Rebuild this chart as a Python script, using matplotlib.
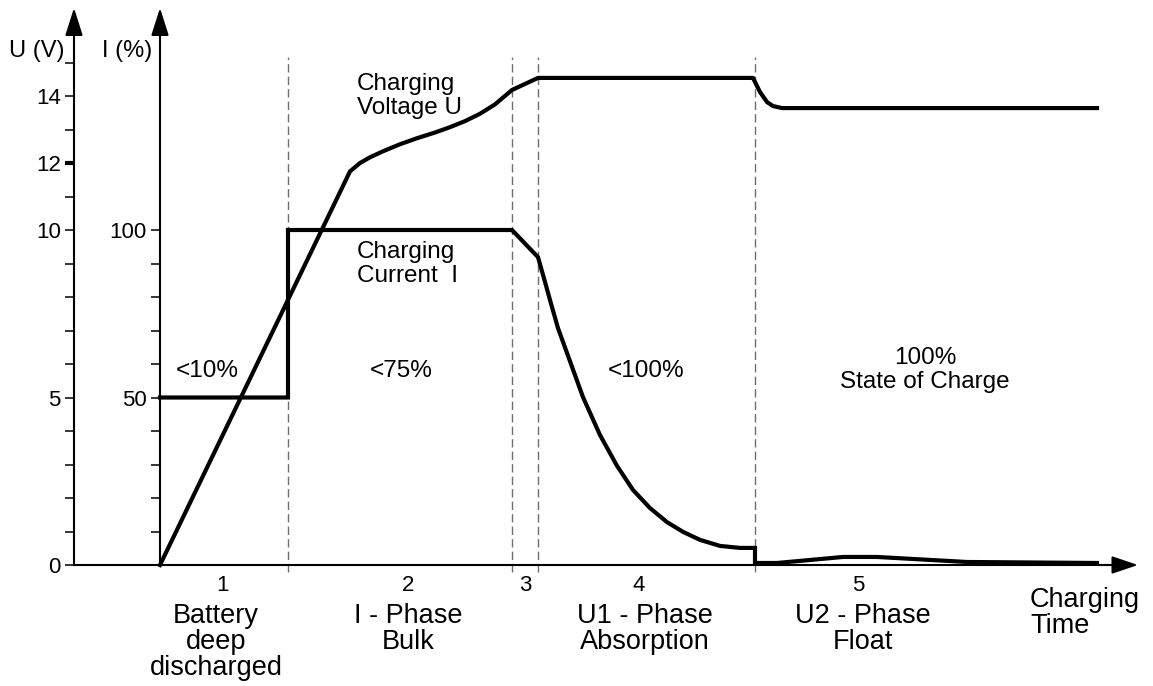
# IU1U2 charging curve of a lead battery, redrawn with matplotlib
import matplotlib
matplotlib.use("Agg")
from matplotlib import pyplot as plt

plt.rcParams["font.family"] = ["Liberation Sans", "DejaVu Sans"]

# charging time (arbitrary units), phase borders
phase_borders = [1.28, 3.52, 3.78, 5.95]

# charging voltage U (V)
u_time = [0, 1.90, 2.00, 2.10, 2.23, 2.40, 2.57, 2.75, 2.90, 3.05, 3.20, 3.35, 3.52, 3.78,
          5.93, 6.00, 6.07, 6.13, 6.22, 9.37]
u_volt = [0, 11.75, 12.00, 12.17, 12.35, 12.56, 12.74, 12.91, 13.07, 13.25, 13.47, 13.75,
          14.18, 14.54, 14.54, 14.12, 13.82, 13.70, 13.64, 13.64]

# charging current I (%)
i_time = [0, 1.28, 1.28, 3.52, 3.78, 3.85, 3.90, 3.98, 4.07, 4.15, 4.23, 4.40, 4.57, 4.73,
          4.90, 5.07, 5.23, 5.40, 5.60, 5.80, 5.95, 5.95, 6.17, 6.83, 7.17, 8.07, 9.37]
i_pct = [50, 50, 100, 100, 91.9, 84.5, 79.1, 70.7, 63.3, 56.7, 50.1, 38.8, 29.6, 22.4,
         17.0, 12.8, 9.9, 7.5, 5.7, 5.1, 5.1, 0.6, 0.6, 2.4, 2.4, 0.9, 0.6]

# axis ticks
u_ticks = [0, 5, 10, 12, 14]
u_minor = [1, 2, 3, 4, 6, 7, 8, 9, 11, 13, 15]
i_ticks = [50, 100]
i_minor = [10, 20, 30, 40, 60, 70, 80, 90]

# texts
phase_numbers = ["1", "2", "3", "4", "5"]
phase_number_x = [0.63, 2.48, 3.65, 4.79, 6.98]
phase_names = ["Battery\ndeep\ndischarged", "I - Phase\nBulk", "U1 - Phase\nAbsorption",
               "U2 - Phase\nFloat"]
phase_name_x = [0.56, 2.48, 4.85, 7.03]
soc_texts = ["<10%", "<75%", "<100%"]
soc_x = [0.47, 2.41, 4.86]

fig = plt.figure(figsize=(11.53, 6.86), dpi=100)
ax = fig.add_axes([0, 0, 1, 1])
ax.set_xlim(-1.6, 9.93)
ax.set_ylim(-3.612, 16.866)
ax.patch.set_visible(False)

ax2 = ax.twinx()
ax2.set_ylim(-36.12, 168.66)
ax2.patch.set_visible(False)

# spines: U axis on the left, I axis at time 0, time axis at 0
for s in ["top", "right"]:
    ax.spines[s].set_visible(False)
for s in ["top", "right", "bottom"]:
    ax2.spines[s].set_visible(False)
x_u_axis = -0.86
ax.spines["left"].set_position(("data", x_u_axis))
ax.spines["left"].set_bounds(0, 16.2)
ax.spines["bottom"].set_position(("data", 0))
ax.spines["bottom"].set_bounds(x_u_axis, 9.5)
ax2.spines["left"].set_visible(True)
ax2.spines["left"].set_position(("data", 0))
ax2.spines["left"].set_bounds(0, 162)
for sp in [ax.spines["left"], ax.spines["bottom"], ax2.spines["left"]]:
    sp.set_linewidth(1.5)

ax.set_xticks([])
ax.set_yticks(u_ticks)
ax.set_yticklabels([str(v) for v in u_ticks])
ax.set_yticks(u_minor, minor=True)
ax.tick_params(axis="y", which="both", length=6.5, width=1.1, pad=3, labelsize=16)
# the 12 V tick is drawn heavier
ax.yaxis.get_major_ticks()[3].tick1line.set_markeredgewidth(3)

ax2.yaxis.tick_left()
ax2.set_yticks(i_ticks)
ax2.set_yticklabels([str(v) for v in i_ticks])
ax2.set_yticks(i_minor, minor=True)
ax2.tick_params(axis="y", which="both", length=6.5, width=1.1, pad=3, labelsize=16,
                left=True, right=False, labelleft=True, labelright=False)

# arrow heads
arr = dict(arrowstyle="-|>,head_length=0.85,head_width=0.27", color="black",
           lw=1.5, shrinkA=0, shrinkB=0, mutation_scale=20)
ax.annotate("", xy=(x_u_axis, 16.63), xytext=(x_u_axis, 16.0), arrowprops=arr)
ax.annotate("", xy=(0, 16.63), xytext=(0, 16.0), arrowprops=arr)
ax.annotate("", xy=(9.78, 0), xytext=(9.4, 0),
            arrowprops=dict(arr, arrowstyle="-|>,head_length=0.8,head_width=0.27"))

# phase borders
ax.vlines(phase_borders, -0.21, 15.16, colors="#6e6e6e", linestyles=(0, (6, 3)), lw=1)

# curves
ax.plot(u_time, u_volt, color="black", lw=3, solid_joinstyle="round", zorder=3)
ax2.plot(i_time, i_pct, color="black", lw=3, solid_joinstyle="miter", zorder=3)

# axis names
ax.text(-1.23, 15.34, "U (V)", fontsize=17, ha="center", va="center")
ax.text(-0.33, 15.34, "I (%)", fontsize=17, ha="center", va="center")

# curve names
ax.text(1.97, 14.69, "Charging\nVoltage U", fontsize=17.5, ha="left", va="top", linespacing=1.1)
ax.text(1.97, 9.67, "Charging\nCurrent  I", fontsize=17.5, ha="left", va="top", linespacing=1.1)

# state of charge
for x, t in zip(soc_x, soc_texts):
    ax.text(x, 5.61, t, fontsize=17.5, ha="center", va="baseline")
ax.text(7.65, 6.51, "100%\nState of Charge", fontsize=17.5, ha="center", va="top",
        linespacing=1.1)

# phases under the time axis
for x, t in zip(phase_number_x, phase_numbers):
    ax.text(x, -0.78, t, fontsize=16, ha="center", va="baseline")
for x, t in zip(phase_name_x, phase_names):
    ax.text(x, -1.12, t, fontsize=19.5, ha="center", va="top", linespacing=1.0)
ax.text(8.70, -0.66, "Charging\nTime", fontsize=19.5, ha="left", va="top", linespacing=1.0)

fig.savefig("out.png", dpi=100)
